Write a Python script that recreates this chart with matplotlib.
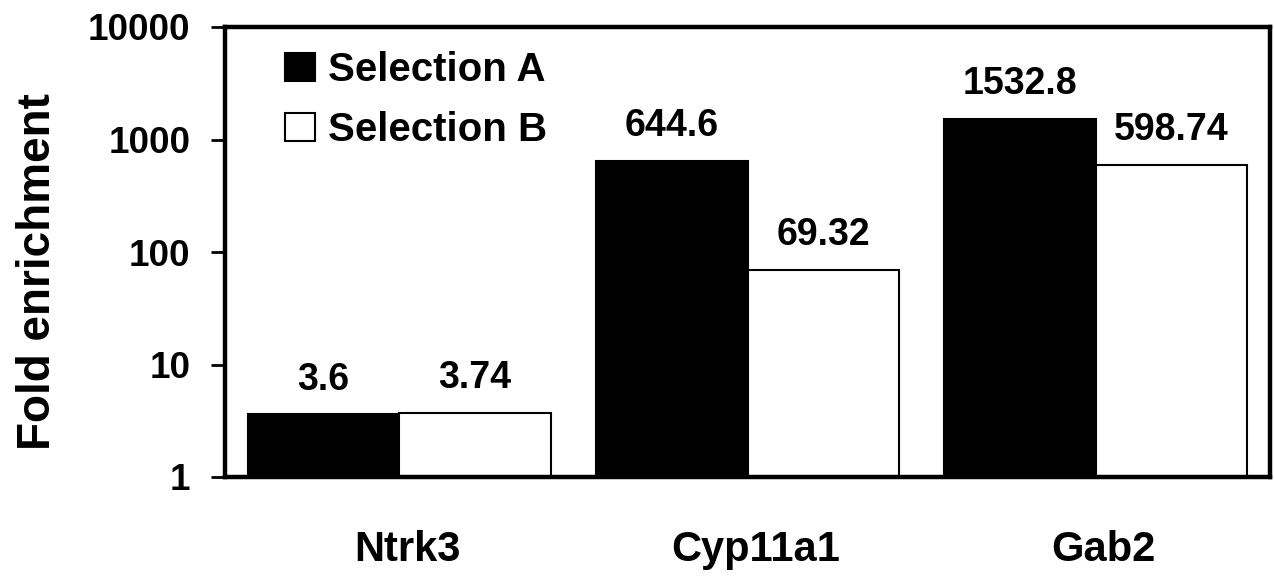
import matplotlib
matplotlib.use("Agg")
import matplotlib.pyplot as plt
import matplotlib.transforms as mtransforms
import numpy as np

categories = ["Ntrk3", "Cyp11a1", "Gab2"]
selection_a = [3.6, 644.6, 1532.8]
selection_b = [3.74, 69.32, 598.74]
labels_a = ["3.6", "644.6", "1532.8"]
labels_b = ["3.74", "69.32", "598.74"]
yticks = [1, 10, 100, 1000, 10000]
ytick_labels = ["1", "10", "100", "1000", "10000"]

plt.rcParams['font.family'] = ['Liberation Sans', 'DejaVu Sans']
plt.rcParams['font.weight'] = 'bold'

fig = plt.figure(figsize=(12.74, 5.86), dpi=100)
ax = fig.add_axes([225/1274, 1-477/586, (1270-225)/1274, (477-27)/586])

x = np.arange(len(categories))
w = 0.435
ba = ax.bar(x - w/2, np.array(selection_a) - 1, w, bottom=1, color='black',
            edgecolor='black', linewidth=1.5, label='Selection A')
bb = ax.bar(x + w/2, np.array(selection_b) - 1, w, bottom=1, color='white',
            edgecolor='black', linewidth=1.5, label='Selection B')

ax.set_yscale('log')
ax.set_ylim(1, 10000)
ax.set_xlim(-0.5, 2.5)
ax.set_yticks(yticks)
ax.set_yticklabels(ytick_labels, fontsize=26.5, fontweight='bold')
ax.yaxis.set_minor_locator(matplotlib.ticker.NullLocator())
ax.tick_params(axis='y', direction='out', length=10, width=2, pad=15)
ax.set_xticks(x)
ax.set_xticklabels(categories, fontsize=30, fontweight='bold')
ax.tick_params(axis='x', length=0, pad=38)
offset = mtransforms.ScaledTranslation(8/100, 0, fig.dpi_scale_trans)
for lbl in ax.get_xticklabels():
    lbl.set_transform(lbl.get_transform() + offset)

for s in ax.spines.values():
    s.set_linewidth(3.2)

for xi, v, lab in zip(x - w/2, selection_a, labels_a):
    ax.annotate(lab, (xi, v), xytext=(0, 25), textcoords='offset points',
                ha='center', va='center', fontsize=27, fontweight='bold')
for xi, v, lab in zip(x + w/2, selection_b, labels_b):
    ax.annotate(lab, (xi, v), xytext=(0, 25), textcoords='offset points',
                ha='center', va='center', fontsize=27, fontweight='bold')

fig.text(38/1274, 1-272/586, "Fold enrichment", rotation=90, ha='center', va='center',
         fontsize=33, fontweight='bold')

leg = ax.legend(loc='upper left', bbox_to_anchor=(285/1274, 1-51/586), bbox_transform=fig.transFigure,
                frameon=False, fontsize=29, handlelength=0.75, handleheight=0.68,
                handletextpad=0.33, labelspacing=0.55, borderaxespad=0, borderpad=0)

fig.savefig("out.png", dpi=100)
